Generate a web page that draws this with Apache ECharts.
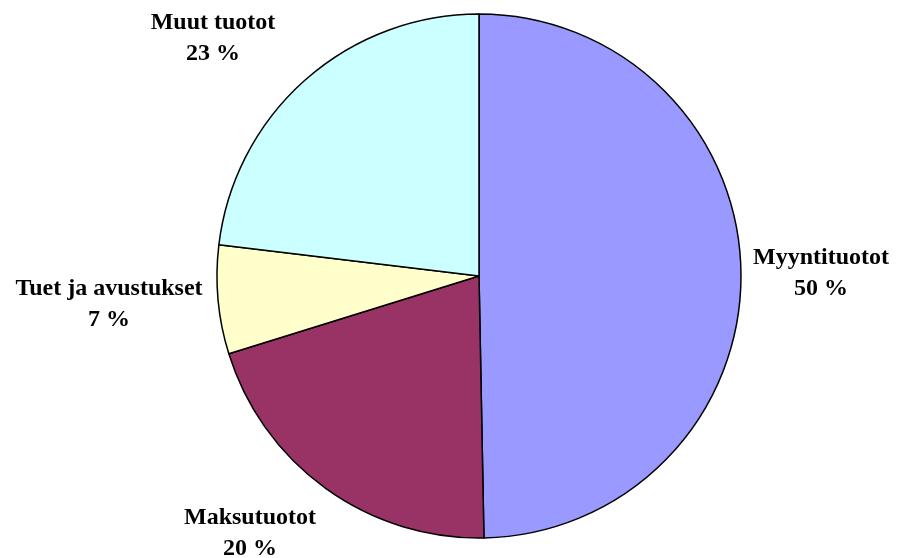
<!DOCTYPE html>
<html>
<head>
<meta charset="utf-8">
<script src="https://cdn.jsdelivr.net/npm/echarts@6/dist/echarts.min.js"></script>
<style>
  html, body { margin: 0; padding: 0; background: #fff; }
  #chart { width: 898px; height: 558px; }
</style>
</head>
<body>
<div id="chart"></div>
<script>
// tuottojen jakauma, %
const categories = ["Myyntituotot", "Maksutuotot", "Tuet ja avustukset", "Muut tuotot"];
const values = [49.7, 20.5, 6.7, 23.1];
const colors = ["#9999FF", "#993366", "#FFFFCC", "#CCFFFF"];

// label centres (Excel-style placement, not radial)
const labelAt = [[821, 273], [250, 533], [109, 304], [213, 38]];

const chart = echarts.init(document.getElementById("chart"));
chart.setOption({
  animation: false,
  series: [
    {
      type: "pie",
      center: [479, 276],
      radius: 262,
      startAngle: 90,
      clockwise: true,
      percentPrecision: 0,
      data: categories.map((c, i) => ({
        name: c,
        value: values[i],
        itemStyle: { color: colors[i] }
      })),
      itemStyle: { borderColor: "#000", borderWidth: 1.5 },
      label: {
        position: "outside",
        formatter: "{b}\n{d} %",
        fontFamily: "Liberation Serif, Times New Roman, serif",
        fontWeight: "bold",
        fontSize: 24,
        lineHeight: 31,
        color: "#000",
        overflow: "none",
        bleedMargin: 0
      },
      labelLine: { show: false },
      labelLayout: function (p) {
        const pos = labelAt[p.dataIndex];
        return { x: pos[0], y: pos[1], align: "center", verticalAlign: "middle", width: 300 };
      },
      emphasis: { disabled: true }
    }
  ]
});
</script>
</body>
</html>
